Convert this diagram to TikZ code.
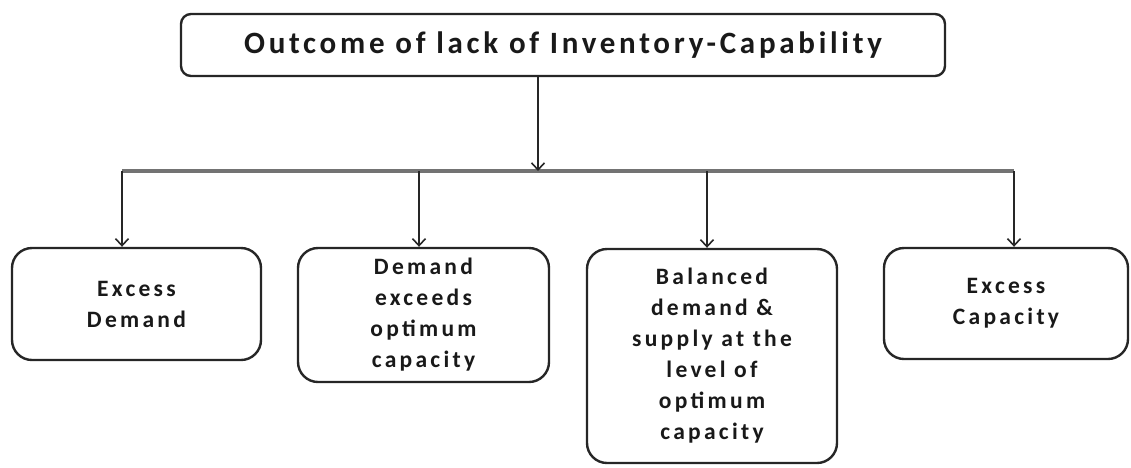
\documentclass[tikz,border=0pt]{standalone}
\usepackage{fontspec}
\setmainfont{Carlito}
\newfontfamily\titlefont[LetterSpace=12]{Carlito}
\newfontfamily\boxfont[LetterSpace=14]{Carlito}
\usetikzlibrary{arrows.meta}
\tikzset{
  outline/.style={draw=black!85, line width=2.4pt, fill=white, align=center, inner sep=0pt, text=black!90},
  headbox/.style={outline, rounded corners=10pt, font=\titlefont\bfseries\fontsize{31}{34}\selectfont},
  itembox/.style={outline, rounded corners=20pt, font=\boxfont\bfseries\fontsize{23.5}{31}\selectfont},
  link/.style={draw=black!85, line width=1.8pt, -{Straight Barb[length=7pt,width=13pt,line width=1.6pt]}},
  bar/.style={draw=black!55, line width=3.5pt}
}
\begin{document}
\begin{tikzpicture}[x=1pt,y=-1pt]
  \useasboundingbox (0,0) rectangle (1131,467);
  % main heading
  \node[headbox, minimum width=764pt, minimum height=62pt] (top) at (563,45)
    {Outcome of lack of Inventory-Capability};
  % the four outcomes
  \node[itembox, minimum width=249pt, minimum height=112pt] (b1) at (136.5,304)
    {Excess\\Demand};
  \node[itembox, minimum width=251pt, minimum height=134pt] (b2) at (423.5,315)
    {Demand\\exceeds\\optimum\\capacity};
  \node[itembox, minimum width=250pt, minimum height=214pt] (b3) at (712,356)
    {Balanced\\demand \&\\supply at the\\level of\\optimum\\capacity};
  \node[itembox, minimum width=244pt, minimum height=111pt] (b4) at (1006,303.5)
    {Excess\\Capacity};
  % distribution bar
  \coordinate (j) at (538,171);
  \coordinate (t1) at (122,171);
  \coordinate (t2) at (419,171);
  \coordinate (t3) at (707,171);
  \coordinate (t4) at (1014,171);
  \draw[bar] (t1) -- (t4);
  \draw[link] (top.south -| j) -- (j);
  \draw[link] (t1) -- (t1 |- b1.north);
  \draw[link] (t2) -- (t2 |- b2.north);
  \draw[link] (t3) -- (t3 |- b3.north);
  \draw[link] (t4) -- (t4 |- b4.north);
\end{tikzpicture}
\end{document}
